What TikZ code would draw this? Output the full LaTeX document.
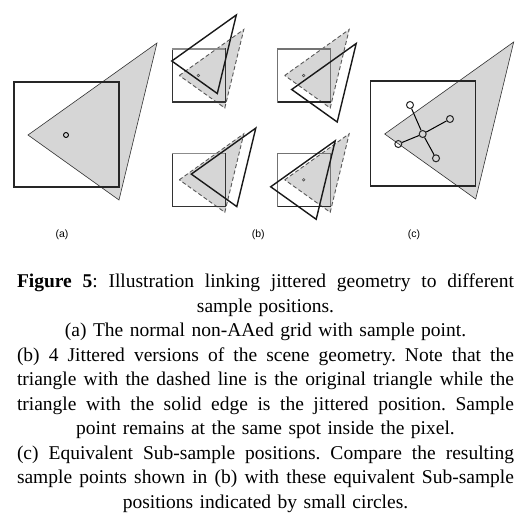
\documentclass[tikz,border=0pt]{standalone}
\usepackage{fontspec}
\setmainfont{Liberation Serif}
\newfontfamily\labelfont{Liberation Sans}
\usepackage{tikz,xcolor}

\newcommand{\fullline}[1]{{\spaceskip=0.25em plus 1em minus 0.08em\makebox[497pt][s]{#1}}}

\begin{document}
\begin{tikzpicture}[x=1pt, y=-1pt,
  pixel/.style={draw=black!85, line width=1.1pt},
  tri/.style={fill=black!16, draw=black!80, line width=0.6pt},
  origtri/.style={fill=black!16, draw=black!65, line width=0.9pt, dash pattern=on 4pt off 2.5pt},
  jittri/.style={draw=black!90, line width=1.4pt, line join=miter},
  sample/.style={draw, circle, line width=0.9pt, inner sep=0pt, minimum size=5pt},
  tiny/.style={draw=black!70, circle, line width=0.6pt, inner sep=0pt, minimum size=2.6pt},
  sub/.style={draw=black!85, circle, line width=1pt, inner sep=0pt, minimum size=7pt},
  panel/.style={font=\labelfont\fontsize{10.5}{12}\selectfont},
  caption/.style={inner sep=0pt, text width=497pt, align=center,
    font=\fontsize{19.5}{24.5}\selectfont\frenchspacing}]

\fill[white] (0,0) rectangle (531,517);
\useasboundingbox (0,0) rectangle (531,517);

% (a)
\draw[tri] (28,135) -- (157,43) -- (119,200) -- cycle;
\draw[pixel] (14,82) rectangle (119,187);
\node[sample] (sa) at (66,135) {};
\node[panel] (la) at (62,235) {(a)};

% (b)
\begin{scope}[shift={(172.3,49)}]
\draw[origtri] (7,26.5) -- (71.5,-19.5) -- (52.5,59) -- cycle;
\draw[pixel, draw=black!80] (0,0) rectangle (53,53);
\draw[black!45, line width=1.1pt] (0,0) -- (53,0);
\node[tiny] (sb1) at (26,26.5) {};
\draw[jittri, shift={(-7.5,-14.5)}] (7,26.5) -- (71.5,-19.5) -- (52.5,59) -- cycle;
\end{scope}

\begin{scope}[shift={(277.7,49)}]
\draw[origtri] (7,26.5) -- (71.5,-19.5) -- (52.5,59) -- cycle;
\draw[pixel, draw=black!55] (0,0) rectangle (53,53);
\draw[black!85, line width=1.1pt] (0,53) -- (53,53);
\node[tiny] (sb2) at (26,26.5) {};
\draw[jittri, shift={(7,14)}] (7,26.5) -- (71.5,-19.5) -- (52.5,59) -- cycle;
\end{scope}

\begin{scope}[shift={(172.3,153.3)}]
\draw[origtri] (7,26.5) -- (71.5,-19.5) -- (52.5,59) -- cycle;
\draw[pixel, draw=black!80] (0,0) rectangle (53,53);
\draw[black!45, line width=1.1pt] (0,0) -- (53,0);
\draw[jittri, shift={(12,-5.7)}] (7,26.5) -- (71.5,-19.5) -- (52.5,59) -- cycle;
\end{scope}

\begin{scope}[shift={(277.7,153.3)}]
\draw[origtri] (7,26.5) -- (71.5,-19.5) -- (52.5,59) -- cycle;
\draw[pixel, draw=black!55] (0,0) rectangle (53,53);
\draw[black!85, line width=1.1pt] (0,53) -- (53,53);
\node[tiny] (sb4) at (26,26.5) {};
\draw[jittri, shift={(-14,7)}] (7,26.5) -- (71.5,-19.5) -- (52.5,59) -- cycle;
\end{scope}

\node[panel] (lb) at (258.3,235) {(b)};

% (c)
\draw[tri] (384.7,134) -- (513.7,42) -- (475.7,199) -- cycle;
\draw[pixel] (370.7,81) rectangle (475.3,186);
\node[sub] (c0) at (422.7,134) {};
\node[sub] (c1) at (410,105) {};
\node[sub] (c2) at (450,119) {};
\node[sub] (c3) at (398.3,144) {};
\node[sub] (c4) at (436,158.3) {};
\draw[line width=1pt] (c1) -- (c0);
\draw[line width=1pt] (c0) -- (c4);
\draw[line width=1pt] (c3) -- (c0);
\draw[line width=1pt] (c0) -- (c2);
\node[panel] (lc) at (414,235) {(c)};

% caption
\node[caption, anchor=north] (cap) at (265.5,274) {%
\fullline{\textbf{Figure 5}: Illustration linking jittered geometry to different}\\
sample positions.\\
(a) The normal non-AAed grid with sample point.\\
\fullline{(b) 4 Jittered versions of the scene geometry. Note that the}\\
\fullline{triangle with the dashed line is the original triangle while the}\\
\fullline{triangle with the solid edge is the jittered position. Sample}\\
point remains at the same spot inside the pixel.\\
\fullline{(c) Equivalent Sub-sample positions. Compare the resulting}\\
\fullline{sample points shown in (b) with these equivalent Sub-sample}\\
positions indicated by small circles.};

\end{tikzpicture}
\end{document}
